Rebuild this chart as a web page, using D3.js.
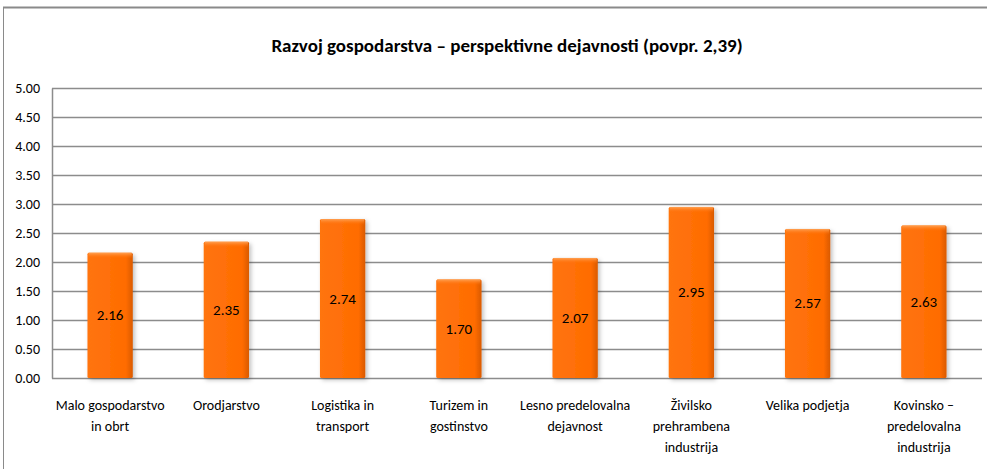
<!DOCTYPE html>
<html>
<head>
<meta charset="utf-8">
<script src="https://cdn.jsdelivr.net/npm/d3@7"></script>
<style>
  html, body { margin: 0; padding: 0; background: #fff; }
  svg { display: block; }
  text { font-family: Carlito, "Liberation Sans Narrow", Lato, sans-serif; fill: #000; }
</style>
</head>
<body>
<svg id="chart" width="987" height="469"></svg>
<script>
const title = "Razvoj gospodarstva – perspektivne dejavnosti (povpr. 2,39)";
const categories = [
  ["Malo gospodarstvo", "in obrt"],
  ["Orodjarstvo"],
  ["Logistika in", "transport"],
  ["Turizem in", "gostinstvo"],
  ["Lesno predelovalna", "dejavnost"],
  ["Živilsko", "prehrambena", "industrija"],
  ["Velika podjetja"],
  ["Kovinsko –", "predelovalna", "industrija"]
];
const values = [2.16, 2.35, 2.74, 1.70, 2.07, 2.95, 2.57, 2.63];
const yTicks = [0, 0.5, 1, 1.5, 2, 2.5, 3, 3.5, 4, 4.5, 5];

const svg = d3.select("#chart");
const W = 987, H = 469;
const m = { left: 52, right: 5, top: 88, bottom: 91 };
const plotW = W - m.left - m.right;
const plotH = H - m.top - m.bottom;

// outer chart frame
svg.append("rect").attr("x", 3.5).attr("y", 7.5).attr("width", W + 10).attr("height", H + 10)
  .attr("fill", "#fff").attr("stroke", "#8a8a8a").attr("stroke-width", 1);
svg.append("line").attr("x1", 3).attr("x2", W).attr("y1", 7.5).attr("y2", 7.5)
  .attr("stroke", "#8a8a8a").attr("stroke-width", 2);

const defs = svg.append("defs");
const grad = defs.append("linearGradient").attr("id", "barGrad").attr("x1", 0).attr("x2", 1).attr("y1", 0).attr("y2", 0);
grad.append("stop").attr("offset", "0%").attr("stop-color", "#ff7410");
grad.append("stop").attr("offset", "85%").attr("stop-color", "#ff6c00");
grad.append("stop").attr("offset", "100%").attr("stop-color", "#d95a00");
const gradTop = defs.append("linearGradient").attr("id", "topGrad").attr("x1", 0).attr("x2", 0).attr("y1", 0).attr("y2", 1);
gradTop.append("stop").attr("offset", "0%").attr("stop-color", "#ffa255");
gradTop.append("stop").attr("offset", "100%").attr("stop-color", "#ff6c00").attr("stop-opacity", 0);
const filt = defs.append("filter").attr("id", "shadow").attr("x", "-20%").attr("y", "-10%").attr("width", "150%").attr("height", "130%");
filt.append("feDropShadow").attr("dx", 2).attr("dy", 2).attr("stdDeviation", 2).attr("flood-color", "#000").attr("flood-opacity", 0.25);

const g = svg.append("g").attr("transform", `translate(${m.left},${m.top})`);

const x = d3.scaleBand().domain(d3.range(categories.length)).range([0, plotW]).paddingInner(0.61).paddingOuter(0.305);
const y = d3.scaleLinear().domain([0, 5]).range([plotH, 0]);

// gridlines
g.append("g").selectAll("line").data(yTicks).join("line")
  .attr("x1", 0).attr("x2", plotW)
  .attr("y1", d => Math.round(y(d)) + 0.5).attr("y2", d => Math.round(y(d)) + 0.5)
  .attr("stroke", "#8c8c8c").attr("stroke-width", 1.5);

// y axis
const yAxis = d3.axisLeft(y).tickValues(yTicks).tickFormat(d3.format(".2f")).tickSize(0).tickPadding(12);
const ya = g.append("g").call(yAxis);
ya.select(".domain").attr("stroke", "#8c8c8c").attr("stroke-width", 1.5);
ya.selectAll("text").attr("font-size", 14).style("font-family", 'Carlito, "Liberation Sans Narrow", Lato, sans-serif');

// bars
const bars = g.append("g").selectAll("g").data(values).join("g");
bars.append("rect")
  .attr("x", (d, i) => x(i)).attr("y", d => y(d))
  .attr("width", x.bandwidth()).attr("height", d => plotH - y(d))
  .attr("fill", "url(#barGrad)").attr("filter", "url(#shadow)").attr("rx", 1.5);
bars.append("rect")
  .attr("x", (d, i) => x(i) + 1).attr("y", d => y(d))
  .attr("width", x.bandwidth() - 2).attr("height", 6)
  .attr("fill", "url(#topGrad)");

// value labels
bars.append("text")
  .attr("x", (d, i) => x(i) + x.bandwidth() / 2)
  .attr("y", d => (y(d) + plotH) / 2)
  .attr("text-anchor", "middle").attr("dominant-baseline", "central")
  .attr("font-size", 15)
  .text(d => d3.format(".2f")(d));

// category labels
const xa = g.append("g").attr("transform", `translate(0,${plotH})`);
categories.forEach((lines, i) => {
  const t = xa.append("text")
    .attr("x", x(i) + x.bandwidth() / 2)
    .attr("y", 32)
    .attr("text-anchor", "middle").attr("font-size", 14);
  lines.forEach((ln, k) => {
    t.append("tspan").attr("x", x(i) + x.bandwidth() / 2).attr("dy", k === 0 ? 0 : 21).text(ln);
  });
});

// title
svg.append("text").attr("x", 507).attr("y", 52).attr("text-anchor", "middle")
  .attr("font-size", 19).attr("font-weight", "bold").text(title);
</script>
</body>
</html>
